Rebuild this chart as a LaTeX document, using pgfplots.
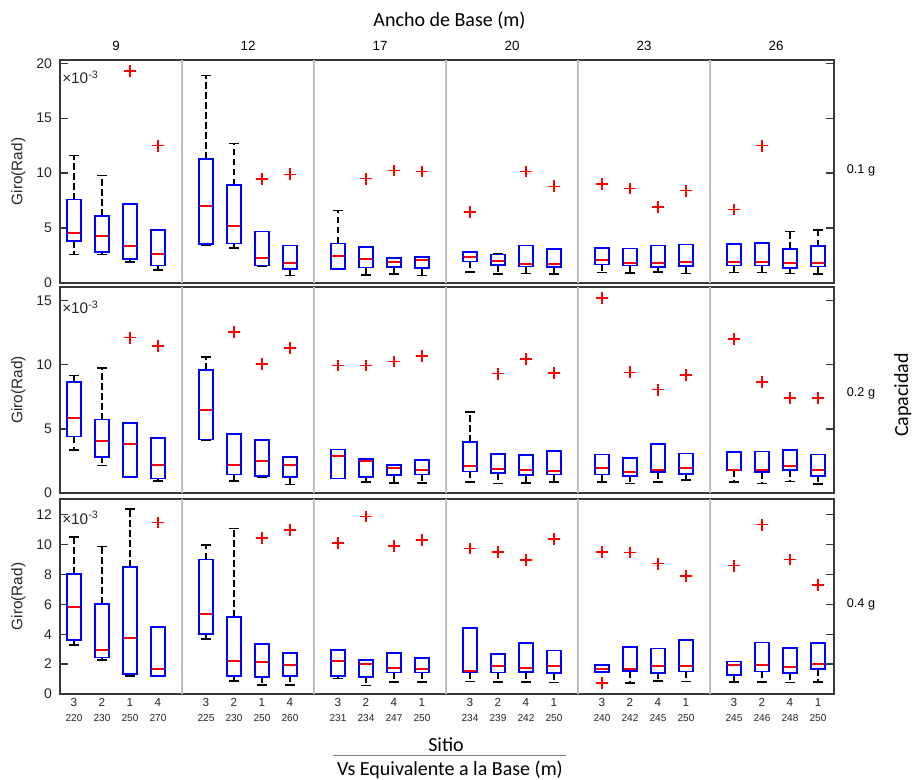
\documentclass[border=0pt]{standalone}
\usepackage{fontspec}
\setmainfont{Liberation Sans}
\newfontfamily\carlito{Carlito}
\usepackage{pgfplots}
\pgfplotsset{compat=1.18}
\usepgfplotslibrary{statistics}

\newcommand{\bx}[8][]{\addplot[bxp,#1,boxplot prepared={draw position=#2,lower whisker=#3,lower quartile=#4,median=#5,upper quartile=#6,upper whisker=#7}] coordinates {#8};}
\newcommand{\tl}[2]{#1\\{\fontsize{7.6}{9}\selectfont #2}}
\newcommand{\seps}[1]{\pgfplotsinvokeforeach{108,240,372,504,636}{\draw[black!25,line width=1.1pt] (axis cs:##1,0) -- (axis cs:##1,#1);}}

\definecolor{medred}{RGB}{255,0,0}
\pgfplotsset{
  bxp/.style={blue,line width=1.2pt,solid,mark=+,mark size=4.4pt,mark options={red,solid,line width=1.1pt}},
  noup/.style={boxplot/draw/upper whisker/.code={}},
  nolow/.style={boxplot/draw/lower whisker/.code={}},
  panel/.style={
    scale only axis, width=580.5pt, xmin=-14, xmax=760, ymin=0,
    axis line style={black!78,line width=1.3pt},
    tick align=inside, major tick length=6pt,
    tick style={black!78,line width=1pt},
    xtick=\empty,
    /pgf/number format/assume math mode=true,
    yticklabel style={font=\fontsize{10.5}{12}\selectfont, text=black!85, xshift=-2.5pt},
    ylabel={Giro(Rad)},
    ylabel style={font=\fontsize{11.5}{13}\selectfont, text=black!85, at={(axis description cs:-0.0536,0.5)}, anchor=center},
    boxplot/draw direction=y,
    boxplot/box extend=14,
    boxplot/whisker extend=10,
    boxplot/every box/.style={blue,line width=1.2pt},
    boxplot/draw/median/.code={%
      \draw[medred,solid,line width=1.5pt] (boxplot box cs:\pgfplotsboxplotvalue{median},0.04) -- (boxplot box cs:\pgfplotsboxplotvalue{median},0.96);
    },
    boxplot/draw/lower whisker/.code={%
      \draw[black,line width=1pt,dash pattern=on 5pt off 2.5pt] (boxplot cs:\pgfplotsboxplotvalue{lower quartile}) -- (boxplot cs:\pgfplotsboxplotvalue{lower whisker});
      \draw[black,solid,line width=1.2pt] (boxplot whisker cs:\pgfplotsboxplotvalue{lower whisker},0) -- (boxplot whisker cs:\pgfplotsboxplotvalue{lower whisker},1);
    },
    boxplot/draw/upper whisker/.code={%
      \draw[black,line width=1pt,dash pattern=on 5pt off 2.5pt] (boxplot cs:\pgfplotsboxplotvalue{upper quartile}) -- (boxplot cs:\pgfplotsboxplotvalue{upper whisker});
      \draw[black,solid,line width=1.2pt] (boxplot whisker cs:\pgfplotsboxplotvalue{upper whisker},0) -- (boxplot whisker cs:\pgfplotsboxplotvalue{upper whisker},1);
    },
  },
}

\begin{document}
\begin{tikzpicture}
\path[use as bounding box] (0,0) rectangle (684.75pt,-584.25pt);

% ---------------- Panel 1: 0.1 g ----------------
\begin{axis}[panel, at={(45pt,-45pt)}, anchor=north west, height=167.25pt, ymax=20.3, ytick={0,5,10,15,20}]
\seps{20.3}
\bx{0}{2.6}{3.8}{4.55}{7.6}{11.6}{}
\bx{28}{2.6}{2.8}{4.3}{6.1}{9.8}{}
\bx[noup]{56}{1.9}{2.2}{3.33}{7.2}{7.2}{(0,19.3)}
\bx[noup]{84}{1.2}{1.6}{2.6}{4.85}{4.85}{(0,12.5)}
\bx{132}{3.4}{3.55}{7.0}{11.3}{18.9}{}
\bx{160}{3.2}{3.6}{5.2}{8.9}{12.7}{}
\bx[noup]{188}{1.5}{1.6}{2.3}{4.7}{4.7}{(0,9.45)}
\bx[noup]{216}{0.67}{1.3}{1.85}{3.4}{3.4}{(0,9.9)}
\bx[nolow]{264}{1.3}{1.3}{2.45}{3.6}{6.6}{}
\bx[noup]{292}{0.75}{1.4}{2.15}{3.3}{3.3}{(0,9.5)}
\bx[noup]{320}{0.8}{1.45}{1.9}{2.25}{2.25}{(0,10.25)}
\bx[noup]{348}{0.7}{1.35}{2.1}{2.35}{2.35}{(0,10.15)}
\bx[noup]{396}{1.0}{1.95}{2.35}{2.8}{2.8}{(0,6.45)}
\bx{424}{0.8}{1.65}{2.0}{2.6}{2.7}{}
\bx[noup]{452}{0.85}{1.5}{1.75}{3.4}{3.4}{(0,10.15)}
\bx[noup]{480}{0.8}{1.45}{1.75}{3.1}{3.1}{(0,8.8)}
\bx[noup]{528}{0.97}{1.7}{2.05}{3.2}{3.2}{(0,9.0)}
\bx[noup]{556}{0.9}{1.6}{1.8}{3.15}{3.15}{(0,8.6)}
\bx[noup]{584}{1.0}{1.45}{1.85}{3.4}{3.4}{(0,6.9)}
\bx[noup]{612}{0.85}{1.55}{1.95}{3.5}{3.5}{(0,8.4)}
\bx[noup]{660}{0.95}{1.6}{1.95}{3.55}{3.55}{(0,6.7)}
\bx[noup]{688}{0.97}{1.6}{1.9}{3.65}{3.65}{(0,12.5)}
\bx{716}{0.85}{1.35}{1.8}{3.1}{4.7}{}
\bx{744}{0.8}{1.5}{1.8}{3.35}{4.85}{}
\end{axis}

% ---------------- Panel 2: 0.2 g ----------------
\begin{axis}[panel, at={(45pt,-215.25pt)}, anchor=north west, height=154.5pt, ymax=16.05, ytick={0,5,10,15}]
\seps{16.05}
\bx{0}{3.33}{4.4}{5.88}{8.65}{9.15}{}
\bx{28}{2.14}{2.82}{4.06}{5.72}{9.73}{}
\bx[noup]{56}{1.2}{1.26}{3.83}{5.46}{5.46}{(0,12.1)}
\bx[noup]{84}{0.93}{1.13}{2.17}{4.3}{4.3}{(0,11.47)}
\bx{132}{4.1}{4.17}{6.5}{9.58}{10.6}{}
\bx[noup]{160}{0.95}{1.45}{2.17}{4.6}{4.6}{(0,12.53)}
\bx[noup]{188}{1.2}{1.34}{2.5}{4.14}{4.14}{(0,10.05)}
\bx[noup]{216}{0.67}{1.26}{2.17}{2.79}{2.79}{(0,11.3)}
\bx[noup,nolow]{264}{1.13}{1.13}{2.92}{3.39}{3.39}{(0,9.94)}
\bx[noup]{292}{0.85}{1.26}{2.48}{2.64}{2.64}{(0,9.94)}
\bx[noup]{320}{0.8}{1.39}{1.96}{2.17}{2.17}{(0,10.25)}
\bx[noup]{348}{0.8}{1.45}{1.81}{2.59}{2.59}{(0,10.67)}
\bx{396}{0.85}{1.68}{2.14}{3.98}{6.32}{}
\bx[noup]{424}{0.74}{1.55}{1.86}{3.05}{3.05}{(0,9.3)}
\bx[noup]{452}{0.8}{1.39}{1.81}{2.95}{2.95}{(0,10.43)}
\bx[noup]{480}{0.85}{1.45}{1.73}{3.26}{3.26}{(0,9.34)}
\bx[noup]{528}{0.85}{1.45}{1.91}{3.0}{3.0}{(0,15.2)}
\bx[noup]{556}{0.74}{1.34}{1.65}{2.71}{2.71}{(0,9.4)}
\bx[noup]{584}{0.85}{1.63}{1.83}{3.8}{3.8}{(0,8.05)}
\bx[noup]{612}{1.0}{1.47}{1.91}{3.08}{3.08}{(0,9.21)}
\bx[noup]{660}{0.85}{1.78}{1.81}{3.18}{3.18}{(0,12.0)}
\bx[noup]{688}{0.74}{1.63}{1.78}{3.23}{3.23}{(0,8.64)}
\bx[noup]{716}{0.9}{1.78}{2.12}{3.33}{3.33}{(0,7.4)}
\bx[noup]{744}{0.69}{1.34}{1.81}{3.0}{3.0}{(0,7.4)}
\end{axis}

% ---------------- Panel 3: 0.4 g ----------------
\begin{axis}[panel, at={(45pt,-374.25pt)}, anchor=north west, height=146.25pt, ymax=13.04, ytick={0,2,4,6,8,10,12},
  xtick={0,28,56,84,132,160,188,216,264,292,320,348,396,424,452,480,528,556,584,612,660,688,716,744},
  xticklabels={\tl{3}{220},\tl{2}{230},\tl{1}{250},\tl{4}{270},
               \tl{3}{225},\tl{2}{230},\tl{1}{250},\tl{4}{260},
               \tl{3}{231},\tl{2}{234},\tl{4}{247},\tl{1}{250},
               \tl{3}{234},\tl{2}{239},\tl{4}{242},\tl{1}{250},
               \tl{3}{240},\tl{2}{242},\tl{4}{245},\tl{1}{250},
               \tl{3}{245},\tl{2}{246},\tl{4}{248},\tl{1}{250}},
  xticklabel style={align=center, font=\fontsize{8.8}{10.8}\selectfont, text=black!85},
  xtick style={draw=none}]
\seps{13.04}
\bx{0}{3.27}{3.6}{5.79}{8.02}{10.5}{}
\bx{28}{2.27}{2.44}{2.93}{6.01}{9.87}{}
\bx{56}{1.22}{1.35}{3.74}{8.49}{12.37}{}
\bx[noup,nolow]{84}{1.22}{1.22}{1.69}{4.47}{4.47}{(0,11.47)}
\bx{132}{3.69}{4.0}{5.36}{9.0}{9.96}{}
\bx{160}{0.86}{1.22}{2.24}{5.16}{11.07}{}
\bx[noup]{188}{0.62}{1.15}{2.15}{3.36}{3.36}{(0,10.43)}
\bx[noup]{216}{0.62}{1.22}{1.91}{2.76}{2.76}{(0,10.98)}
\bx[noup]{264}{1.04}{1.22}{2.24}{2.93}{2.93}{(0,10.09)}
\bx[noup]{292}{0.57}{1.15}{2.04}{2.27}{2.27}{(0,11.87)}
\bx[noup]{320}{0.82}{1.44}{1.73}{2.73}{2.73}{(0,9.91)}
\bx[noup]{348}{0.82}{1.44}{1.66}{2.4}{2.4}{(0,10.31)}
\bx[noup]{396}{0.84}{1.46}{1.51}{4.4}{4.4}{(0,9.73)}
\bx[noup]{424}{0.79}{1.44}{1.86}{2.67}{2.67}{(0,9.51)}
\bx[noup]{452}{0.82}{1.46}{1.75}{3.4}{3.4}{(0,8.97)}
\bx[noup]{480}{0.77}{1.4}{1.84}{2.91}{2.91}{(0,10.36)}
\bx[noup,nolow]{528}{1.48}{1.48}{1.69}{1.93}{1.93}{(0,9.49) (0,0.73)}
\bx[noup]{556}{0.73}{1.55}{1.69}{3.16}{3.16}{(0,9.46)}
\bx[noup]{584}{0.86}{1.42}{1.89}{3.05}{3.05}{(0,8.71)}
\bx[noup]{612}{0.84}{1.51}{1.84}{3.62}{3.62}{(0,7.9)}
\bx[noup]{660}{0.79}{1.28}{1.91}{2.18}{2.18}{(0,8.58)}
\bx[noup]{688}{0.79}{1.51}{1.95}{3.45}{3.45}{(0,11.32)}
\bx[noup]{716}{0.77}{1.4}{1.82}{3.07}{3.07}{(0,9.0)}
\bx[noup]{744}{0.79}{1.66}{2.0}{3.42}{3.42}{(0,7.28)}
\end{axis}

% ---------------- Texts ----------------
\node[font=\carlito\fontsize{15}{18}\selectfont] at (337.1pt,-15.75pt) {Ancho de Base (m)};
\node[font=\fontsize{10}{12}\selectfont] at (87pt,-34.5pt) {9};
\node[font=\fontsize{10}{12}\selectfont] at (186pt,-34.5pt) {12};
\node[font=\fontsize{10}{12}\selectfont] at (285pt,-34.5pt) {17};
\node[font=\fontsize{10}{12}\selectfont] at (384pt,-34.5pt) {20};
\node[font=\fontsize{10}{12}\selectfont] at (483pt,-34.5pt) {23};
\node[font=\fontsize{10}{12}\selectfont] at (582pt,-34.5pt) {26};

\node[font=\fontsize{11.5}{13}\selectfont, text=black!85, anchor=west, inner sep=0pt] at (46.5pt,-58pt) {×10\textsuperscript{-3}};
\node[font=\fontsize{11.5}{13}\selectfont, text=black!85, anchor=west, inner sep=0pt] at (46.5pt,-230.5pt) {×10\textsuperscript{-3}};
\node[font=\fontsize{11.5}{13}\selectfont, text=black!85, anchor=west, inner sep=0pt] at (46.5pt,-388.5pt) {×10\textsuperscript{-3}};

\node[font=\fontsize{9.5}{11}\selectfont] at (645.75pt,-127.5pt) {0.1 g};
\node[font=\fontsize{9.5}{11}\selectfont] at (645.75pt,-294.75pt) {0.2 g};
\node[font=\fontsize{9.5}{11}\selectfont] at (645.75pt,-453pt) {0.4 g};
\node[font=\carlito\fontsize{15}{18}\selectfont, rotate=90, inner sep=1pt] at (677pt,-296.25pt) {Capacidad};

\node[font=\carlito\fontsize{15}{18}\selectfont] at (334.5pt,-558.75pt) {Sitio};
\draw[black!50, line width=0.6pt] (249.75pt,-566.8pt) -- (424.5pt,-566.8pt);
\node[font=\carlito\fontsize{15}{18}\selectfont] at (337.5pt,-577.5pt) {Vs Equivalente a la Base (m)};
\end{tikzpicture}
\end{document}
